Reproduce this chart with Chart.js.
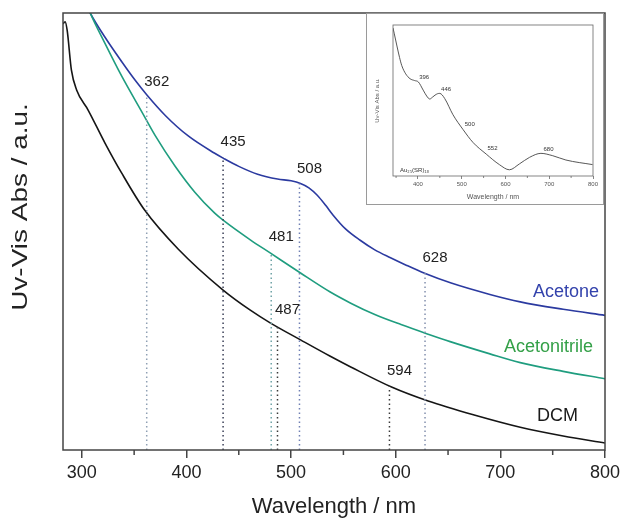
<!DOCTYPE html>
<html>
<head>
<meta charset="utf-8">
<script src="https://cdn.jsdelivr.net/npm/chart.js@4"></script>
<style>
body{margin:0;background:#fff;}
#wrap{position:relative;width:620px;height:518px;}
#inset{position:absolute;left:366px;top:13px;width:238px;height:192px;background:#fff;border:1px solid #9a9a9a;box-sizing:border-box;}
#inset canvas{display:block;}
</style>
</head>
<body>
<div id="wrap">
  <canvas id="main" width="620" height="518"></canvas>
  <div id="inset"><canvas id="ins" width="236" height="190"></canvas></div>
</div>
<script>
// spektren (a.u. frei skaliert, 0..100)
const dcmNm   = [282, 284, 286, 290, 295, 306, 322, 338, 360, 392, 435, 461, 480, 509, 537, 557, 596, 631, 675, 719, 760, 800];
const dcmAbs  = [97.5, 98, 96, 87, 82.4, 77.8, 70.3, 63.4, 54.9, 46.0, 36.6, 32.0, 29.1, 25.2, 21.5, 19.0, 14.4, 11.2, 8.0, 5.2, 3.2, 1.6];

const acetoneNm  = [300, 308, 322, 338, 351, 362, 380, 402, 427, 435, 450, 468, 487, 500, 509, 517, 525, 533, 540, 552, 566, 580, 595, 610, 627, 653, 690, 719, 760, 800];
const acetoneAbs = [104, 100, 94.5, 88.9, 84.6, 81.3, 76.5, 71.8, 67.9, 66.8, 64.9, 63.1, 62.0, 61.6, 61.0, 60.0, 58.3, 56.0, 53.8, 50.6, 48.0, 45.8, 44.0, 42.3, 40.5, 38.2, 35.6, 33.9, 32.2, 30.8];

const acnNm  = [300, 308, 322, 338, 358, 370, 389, 408, 427, 435, 461, 480, 509, 537, 557, 580, 605, 631, 652, 690, 719, 760, 800];
const acnAbs = [105, 100, 93.1, 85.6, 77.1, 72.0, 65.0, 59.0, 54.2, 52.6, 48.1, 45.1, 40.5, 36.2, 33.6, 31.0, 28.7, 26.5, 24.8, 22.0, 20.0, 18.0, 16.3];

// markierte banden
const peakNm    = [362, 435, 508, 628, 481, 487, 594];
const peakTop   = [80.8, 67.0, 61.0, 40.5, 45.3, 28.6, 14.6];
const peakColor = ['#8fa0b4', '#3b4058', '#7080b4', '#8390ae', '#6fa3a6', '#3a3a3a', '#3a3a3a'];

const xTicks     = [300, 400, 500, 600, 700, 800];
const xMinor     = [350, 450, 550, 650, 750];

// inset: Au25(SR)18
const insetNm  = [343, 346, 352, 358, 363, 372, 382, 392, 401, 412, 420, 427, 433, 439, 445, 450, 461, 480, 503, 526, 556, 586, 609, 632, 655, 681, 708, 738, 799];
const insetAbs = [100, 96, 87.8, 80, 74.6, 69, 65.7, 64.5, 63.5, 58.0, 54, 52.0, 53.2, 54.6, 55.6, 55.8, 52.4, 41.4, 31.4, 22.6, 14.8, 7.7, 4.2, 8.2, 12.6, 15.3, 13.7, 10.8, 7.7];
const insetPeakNm  = [396, 446, 500, 552, 680];
const insetPeakAbs = [64.0, 55.8, 32.5, 15.8, 15.3];
const insetTicks = [400, 500, 600, 700, 800];
const insetMinor = [350, 450, 550, 650, 750];

const FONT = '"Liberation Sans", Arial, sans-serif';

function pts(xs, ys){ return xs.map((v,i)=>({x:v, y:ys[i]})); }

const dotted = peakNm.map((nm,i)=>({
  data:[{x:nm,y:0},{x:nm,y:peakTop[i]}],
  borderColor:peakColor[i], borderWidth:1.5, borderDash:[1.5,3], pointRadius:0
}));

// beschriftungen, rahmen, kleine ticks
const decor = {
  id:'decor',
  afterDatasetsDraw(chart){
    const {ctx, chartArea:a, scales:{x,y}} = chart;
    ctx.save();
    ctx.font = '15px ' + FONT;
    ctx.fillStyle = '#222';
    ctx.textAlign = 'center';
    ctx.textBaseline = 'middle';
    peakNm.forEach((nm,i)=>{
      ctx.fillText(String(nm), x.getPixelForValue(nm)+10, y.getPixelForValue(peakTop[i])-15);
    });
    ctx.font = '18px ' + FONT;
    ctx.textAlign = 'right';
    [['Acetone', acetoneAbs, '#3443ac', 6, 23], ['Acetonitrile', acnAbs, '#34a048', 12, 32], ['DCM', dcmAbs, '#1a1a1a', 27, 27]].forEach(s=>{
      ctx.fillStyle = s[2];
      ctx.fillText(s[0], a.right-s[3], y.getPixelForValue(s[1][s[1].length-1])-s[4]);
    });
    ctx.strokeStyle = '#444';
    ctx.lineWidth = 1.5;
    ctx.strokeRect(a.left, a.top, a.right-a.left, a.bottom-a.top);
    xMinor.forEach(v=>{
      const px = x.getPixelForValue(v);
      ctx.beginPath(); ctx.moveTo(px, a.bottom); ctx.lineTo(px, a.bottom+5); ctx.stroke();
    });
    // y-titel, etwas gestreckt wie im original
    ctx.translate(21, 207);
    ctx.rotate(-Math.PI/2);
    ctx.scale(1.27, 1);
    ctx.font = '22px ' + FONT;
    ctx.fillStyle = '#222';
    ctx.textAlign = 'center';
    ctx.fillText('Uv-Vis Abs / a.u.', 0, 0);
    ctx.restore();
  }
};

new Chart(document.getElementById('main'), {
  type:'line',
  data:{datasets:[
    ...dotted,
    {data:pts(dcmNm,dcmAbs), borderColor:'#151515', borderWidth:1.6, pointRadius:0, tension:0.4, cubicInterpolationMode:'monotone'},
    {data:pts(acnNm,acnAbs), borderColor:'#1f9d7f', borderWidth:1.6, pointRadius:0, tension:0.4, cubicInterpolationMode:'monotone'},
    {data:pts(acetoneNm,acetoneAbs), borderColor:'#2b3aa0', borderWidth:1.6, pointRadius:0, tension:0.4, cubicInterpolationMode:'monotone'}
  ]},
  options:{
    responsive:false, animation:false,
    layout:{padding:{top:13, right:15, left:0, bottom:0}},
    plugins:{legend:{display:false}, tooltip:{enabled:false}},
    scales:{
      x:{
        type:'linear', min:282, max:800,
        afterBuildTicks:s=>{ s.ticks = xTicks.map(v=>({value:v})); },
        afterFit:s=>{ s.height = 68; s.paddingLeft = 0; s.paddingRight = 0; },
        ticks:{color:'#222', font:{family:FONT, size:18}, padding:4, maxRotation:0},
        grid:{drawOnChartArea:false, tickLength:8, color:'#444', lineWidth:1.5},
        border:{display:false},
        title:{display:true, text:'Wavelength / nm', color:'#222', font:{family:FONT, size:22, lineHeight:1.0}, padding:{top:0, bottom:0}}
      },
      y:{
        min:0, max:100,
        afterFit:s=>{ s.width = 63; },
        ticks:{display:false},
        grid:{display:false},
        border:{display:false},
        title:{display:false}
      }
    }
  },
  plugins:[decor]
});

const insetDecor = {
  id:'insetDecor',
  afterDatasetsDraw(chart){
    const {ctx, chartArea:a, scales:{x,y}} = chart;
    ctx.save();
    ctx.font = '6px ' + FONT;
    ctx.fillStyle = '#333';
    ctx.textAlign = 'left';
    ctx.textBaseline = 'middle';
    insetPeakNm.forEach((nm,i)=>{
      ctx.fillText(String(nm), x.getPixelForValue(nm)+3, y.getPixelForValue(insetPeakAbs[i])-4);
    });
    ctx.fillText('Au\u2082\u2085(SR)\u2081\u2088', a.left+7, a.bottom-6);
    ctx.strokeStyle = '#666';
    ctx.lineWidth = 0.8;
    ctx.strokeRect(a.left, a.top, a.right-a.left, a.bottom-a.top);
    insetMinor.forEach(v=>{
      const px = x.getPixelForValue(v);
      ctx.beginPath(); ctx.moveTo(px, a.bottom); ctx.lineTo(px, a.bottom+2); ctx.stroke();
    });
    ctx.restore();
  }
};

new Chart(document.getElementById('ins'), {
  type:'line',
  data:{datasets:[
    {data:pts(insetNm,insetAbs), borderColor:'#444', borderWidth:0.9, pointRadius:0, tension:0.4, cubicInterpolationMode:'monotone'}
  ]},
  options:{
    responsive:false, animation:false,
    layout:{padding:{top:11, right:10, left:0, bottom:0}},
    plugins:{legend:{display:false}, tooltip:{enabled:false}},
    scales:{
      x:{
        type:'linear', min:343, max:800,
        afterBuildTicks:s=>{ s.ticks = insetTicks.map(v=>({value:v})); },
        afterFit:s=>{ s.height = 28; s.paddingLeft = 0; s.paddingRight = 0; },
        ticks:{color:'#555', font:{family:FONT, size:6}, padding:2, maxRotation:0},
        grid:{drawOnChartArea:false, tickLength:3, color:'#666', lineWidth:0.8},
        border:{display:false},
        title:{display:true, text:'Wavelength / nm', color:'#555', font:{family:FONT, size:7}, padding:{top:0, bottom:3}}
      },
      y:{
        min:0, max:102,
        afterFit:s=>{ s.width = 26; },
        ticks:{display:false},
        grid:{display:false},
        border:{display:false},
        title:{display:true, text:'Uv-Vis Abs / a.u.', color:'#555', font:{family:FONT, size:6}, padding:{top:7, bottom:0}}
      }
    }
  },
  plugins:[insetDecor]
});
</script>
</body>
</html>
